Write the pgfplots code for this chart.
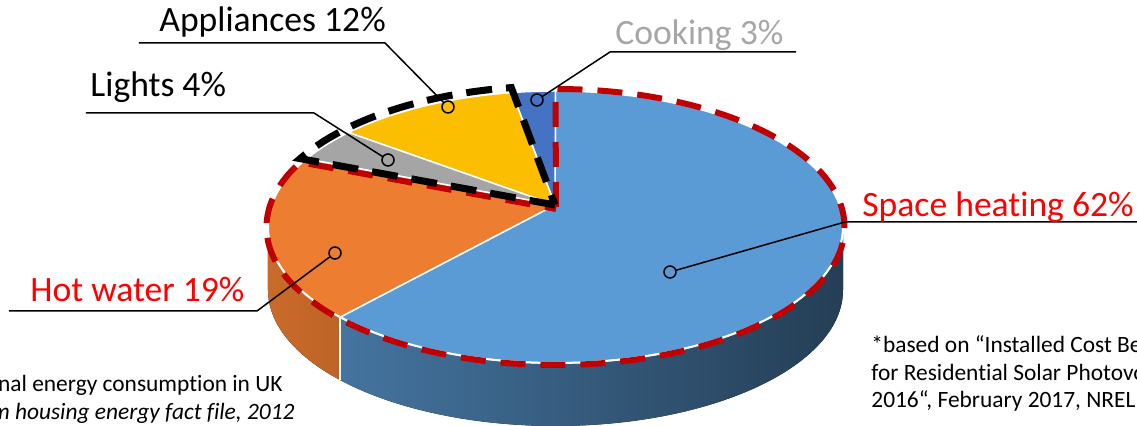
\documentclass[border=0pt]{standalone}
\usepackage{fontspec}
\setmainfont{Carlito}[Ligatures={NoCommon}]
\usepackage{pgfplots}
\pgfplotsset{compat=1.18}
\definecolor{heat}{HTML}{5B9BD5}
\definecolor{water}{HTML}{ED7D31}
\definecolor{lights}{HTML}{A5A5A5}
\definecolor{appl}{HTML}{FBBE00}
\definecolor{cook}{HTML}{4472C4}
\definecolor{darkred}{HTML}{C00000}
\definecolor{cookgray}{HTML}{A6A6A6}
\begin{document}
\begin{tikzpicture}
\begin{axis}[name=ax, width=568.5pt, height=213pt, scale only axis,
  xmin=0, xmax=1137, ymin=0, ymax=426, axis lines=none, clip=false]
\coordinate (C) at (axis cs:555.5,199);
\coordinate (A) at (axis cs:555,221);
% side faces
\fill[left color=water!85!black, right color=water!80!black]
  ([shift={(180:143.75pt and 68pt)}]C) arc[start angle=180,end angle=221.5,x radius=143.75pt,y radius=68pt]
  -- ++(0,-31.5pt) arc[start angle=221.5,end angle=180,x radius=143.75pt,y radius=68pt] -- cycle;
\fill[left color=heat!75!black, right color=heat!40!black]
  ([shift={(221.5:143.75pt and 68pt)}]C) arc[start angle=221.5,end angle=360,x radius=143.75pt,y radius=68pt]
  -- ++(0,-31.5pt) arc[start angle=360,end angle=221.5,x radius=143.75pt,y radius=68pt] -- cycle;
\draw[white, line width=0.75pt] ([shift={(221.5:143.75pt and 68pt)}]C) -- ++(0,-31.5pt);
% top sectors
\fill[heat, draw=white, line width=0.75pt] (A) -- ([shift={(-138.5:143.75pt and 68pt)}]C)
  arc[start angle=-138.5,end angle=90,x radius=143.75pt,y radius=68pt] -- cycle;
\fill[cook, draw=white, line width=0.75pt] (A) -- ([shift={(90:143.75pt and 68pt)}]C)
  arc[start angle=90,end angle=98.7,x radius=143.75pt,y radius=68pt] -- cycle;
\fill[appl, draw=white, line width=0.75pt] (A) -- ([shift={(98.7:143.75pt and 68pt)}]C)
  arc[start angle=98.7,end angle=136,x radius=143.75pt,y radius=68pt] -- cycle;
\fill[lights, draw=white, line width=0.75pt] (A) -- ([shift={(136:143.75pt and 68pt)}]C)
  arc[start angle=136,end angle=150,x radius=143.75pt,y radius=68pt] -- cycle;
\fill[water, draw=white, line width=0.75pt] (A) -- ([shift={(150:143.75pt and 68pt)}]C)
  arc[start angle=150,end angle=221.5,x radius=143.75pt,y radius=68pt] -- cycle;
\draw[white, line width=1pt] ([shift={(175:143.75pt and 68pt)}]C)
  arc[start angle=175,end angle=365,x radius=143.75pt,y radius=68pt];
% dashed outlines
\draw[darkred, line width=3pt, dash pattern=on 12.5pt off 7.5pt]
  (axis cs:556,219) -- ([shift={(90:144.5pt and 69pt)}]C)
  arc[start angle=90,end angle=-208,x radius=144.5pt,y radius=69pt] -- (axis cs:556,217);
\draw[black, line width=3.5pt, dash pattern=on 13pt off 7pt]
  (A) -- ([shift={(151:146pt and 70.5pt)}]C)
  arc[start angle=151,end angle=98.7,x radius=146pt,y radius=70.5pt] -- cycle;
% leader lines
\draw[black, line width=0.75pt] (axis cs:670,154) -- (axis cs:845,204) -- (axis cs:1140,204);
\draw[black, line width=0.75pt] (axis cs:335,173) -- (axis cs:257,115) -- (axis cs:9,115);
\draw[black, line width=0.75pt] (axis cs:388,266) -- (axis cs:314,313) -- (axis cs:86,313);
\draw[black, line width=0.75pt] (axis cs:448,319) -- (axis cs:385,383) -- (axis cs:139,383);
\draw[black, line width=0.75pt] (axis cs:537,326) -- (axis cs:610,374) -- (axis cs:796,374);
\filldraw[fill=heat, draw=black, line width=0.75pt] (axis cs:670,154) circle[radius=3pt];
\filldraw[fill=water, draw=black, line width=0.75pt] (axis cs:335,173) circle[radius=3pt];
\filldraw[fill=lights, draw=black, line width=0.75pt] (axis cs:388,266) circle[radius=3pt];
\filldraw[fill=appl, draw=black, line width=0.75pt] (axis cs:448,319) circle[radius=3pt];
\filldraw[fill=cook, draw=black, line width=0.75pt] (axis cs:537,326) circle[radius=3pt];
% labels
\node[anchor=base west, inner sep=0, text=red, font=\fontsize{17.8}{20}\selectfont] at (axis cs:862,209) {Space heating 62\%};
\node[anchor=base west, inner sep=0, text=red, font=\fontsize{17.8}{20}\selectfont] at (axis cs:30,124) {Hot water 19\%};
\node[anchor=base west, inner sep=0, text=black, font=\fontsize{17.8}{20}\selectfont] at (axis cs:90,329) {Lights 4\%};
\node[anchor=base west, inner sep=0, text=black, font=\fontsize{17.8}{20}\selectfont] at (axis cs:159,394) {Appliances 12\%};
\node[anchor=base west, inner sep=0, text=cookgray, font=\fontsize{17.8}{20}\selectfont] at (axis cs:615,381) {Cooking 3\%};
% notes
\node[anchor=base east, inner sep=0, font=\fontsize{11.7}{14}\selectfont] at (axis cs:283,34) {*Domestic final energy consumption in UK};
\node[anchor=base east, inner sep=0, font=\fontsize{11.7}{14}\selectfont\itshape] at (axis cs:295,6) {*DECC, United Kingdom housing energy fact file, 2012};
\node[anchor=base west, inner sep=0, font=\fontsize{11.7}{14}\selectfont] at (axis cs:871,73) {*based on “Installed Cost Benchmarks and Deployment Barriers};
\node[anchor=base west, inner sep=0, font=\fontsize{11.7}{14}\selectfont] at (axis cs:871,45) {for Residential Solar Photovoltaics with Energy Storage: Q1};
\node[anchor=base west, inner sep=0, font=\fontsize{11.7}{14}\selectfont] at (axis cs:871,18) {2016“, February 2017, NREL};
\end{axis}
\pgfresetboundingbox
\path[use as bounding box] (ax.south west) rectangle (ax.north east);
\end{tikzpicture}
\end{document}
